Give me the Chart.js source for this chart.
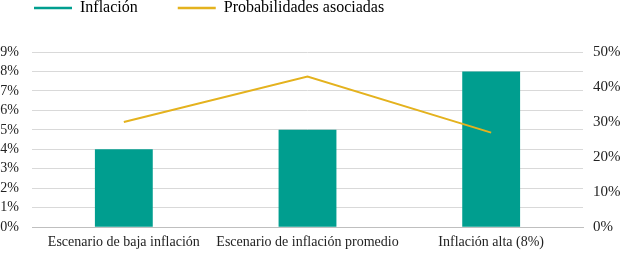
<!DOCTYPE html>
<html>
<head>
<meta charset="utf-8">
<script src="https://cdn.jsdelivr.net/npm/chart.js@4"></script>
<style>
  html, body { margin: 0; padding: 0; background: #fff; }
  #wrap { width: 626px; height: 255px; }
</style>
</head>
<body>
<div id="wrap"><canvas id="chart1"></canvas></div>
<script>
const escenarios = ['Escenario de baja inflación', 'Escenario de inflación promedio', 'Inflación alta (8%)'];
const inflacion = [4, 5, 8];
const probabilidades = [30, 43, 27];

const teal = '#009E8F';
const gold = '#E4B21E';

Chart.defaults.font.family = "'Liberation Serif', 'Times New Roman', serif";
Chart.defaults.color = '#222';

// leyenda arriba a la izquierda, con altura fija
const legendPos = {
  id: 'legendPos',
  beforeLayout(chart) {
    const lg = chart.legend;
    if (lg && !lg._patched) {
      const fit = lg.fit;
      lg.fit = function () { fit.call(this); this.height = 30; };
      lg._patched = true;
    }
  },
  afterLayout(chart) {
    const lg = chart.legend;
    lg.left = -6;
    lg.top = -40;
  }
};

const cht1 = document.getElementById('chart1');

new Chart(cht1, {
  data: {
    labels: escenarios,
    datasets: [{
      type: 'line',
      label: 'Probabilidades asociadas',
      data: probabilidades,
      borderColor: gold,
      borderWidth: 2,
      pointRadius: 0,
      yAxisID: 'y2'
    }, {
      type: 'bar',
      label: 'Inflación',
      data: inflacion,
      backgroundColor: teal,
      barPercentage: 0.63,
      categoryPercentage: 0.5,
      yAxisID: 'y'
    }]
  },
  plugins: [legendPos],
  options: {
    responsive: true,
    maintainAspectRatio: false,
    animation: false,
    layout: { padding: { top: 22, right: 3, bottom: -3, left: 0 } },
    plugins: {
      tooltip: { enabled: false },
      legend: {
        position: 'top',
        align: 'start',
        labels: {
          font: { size: 16 },
          padding: 40,
          usePointStyle: true,
          pointStyleWidth: 38,
          generateLabels: (chart) => [
            { text: 'Inflación', pointStyle: 'line', strokeStyle: teal, fillStyle: teal, lineWidth: 2.5, datasetIndex: 1 },
            { text: 'Probabilidades asociadas', pointStyle: 'line', strokeStyle: gold, fillStyle: gold, lineWidth: 2.5, datasetIndex: 0 }
          ]
        }
      }
    },
    scales: {
      x: {
        grid: { display: false, drawTicks: false },
        border: { color: '#bfbfbf' },
        afterFit: (scale) => { scale.paddingLeft = 0; scale.paddingRight = 0; },
        ticks: { font: { size: 14 }, padding: 7, maxRotation: 0, autoSkip: false }
      },
      y: {
        position: 'left', min: 0, max: 9,
        grid: { color: '#d9d9d9', drawTicks: false },
        border: { display: false },
        afterFit: (scale) => { scale.width = 32; },
        ticks: { stepSize: 1, autoSkip: false, font: { size: 14 }, padding: 13, callback: (v) => v + '%' }
      },
      y2: {
        position: 'right', min: 0, max: 50,
        grid: { display: false, drawTicks: false },
        border: { display: false },
        afterFit: (scale) => { scale.width = 40; },
        ticks: { stepSize: 10, autoSkip: false, font: { size: 15 }, padding: 10, callback: (v) => v + '%' }
      }
    }
  }
});
</script>
</body>
</html>
